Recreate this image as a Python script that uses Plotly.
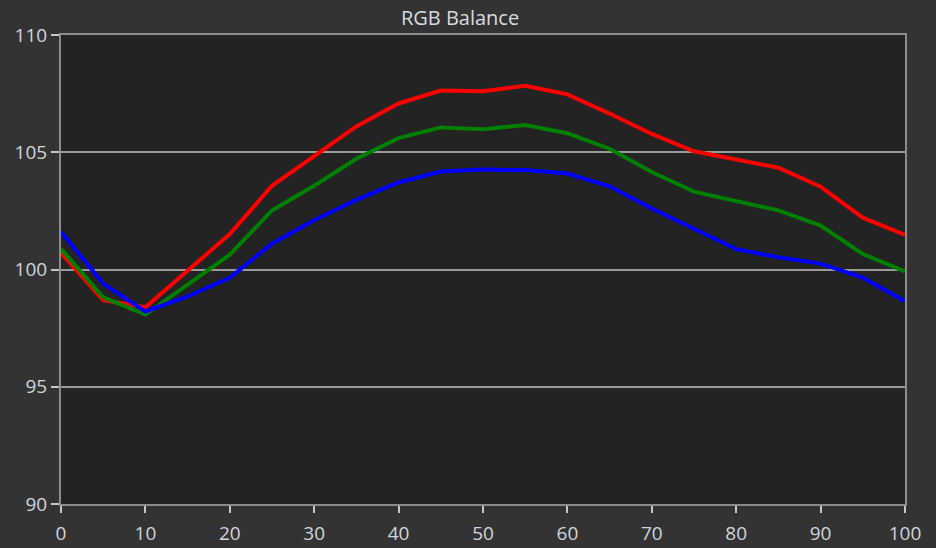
import plotly.graph_objects as go

x_vals = [0, 5, 10, 15, 20, 25, 30, 35, 40, 45, 50, 55, 60, 65, 70, 75, 80, 85, 90, 95, 100]
red_vals = [100.70, 98.69, 98.39, 99.95, 101.51, 103.57, 104.86, 106.10, 107.08, 107.63, 107.60, 107.83, 107.47,
            106.65, 105.78, 105.04, 104.69, 104.34, 103.53, 102.21, 101.48]
green_vals = [100.88, 98.81, 98.08, 99.37, 100.63, 102.52, 103.57, 104.72, 105.60, 106.06, 105.98, 106.16, 105.81,
              105.15, 104.16, 103.32, 102.90, 102.52, 101.87, 100.66, 99.92]
blue_vals = [101.61, 99.40, 98.21, 98.85, 99.65, 101.10, 102.10, 102.97, 103.71, 104.18, 104.26, 104.24, 104.09,
             103.55, 102.60, 101.75, 100.87, 100.52, 100.25, 99.65, 98.65]
y_ticks = [90, 95, 100, 105, 110]
x_ticks = [0, 10, 20, 30, 40, 50, 60, 70, 80, 90, 100]

fig = go.Figure()
fig.add_trace(go.Scatter(x=x_vals, y=red_vals, mode="lines", line=dict(color="#ff0000", width=4), showlegend=False))
fig.add_trace(go.Scatter(x=x_vals, y=green_vals, mode="lines", line=dict(color="#008000", width=4), showlegend=False))
fig.add_trace(go.Scatter(x=x_vals, y=blue_vals, mode="lines", line=dict(color="#0000ff", width=4), showlegend=False))

tick_font = dict(family="Open Sans, Noto Sans, sans-serif", size=19, color="#cfd6de")
fig.update_layout(
    width=936, height=548,
    margin=dict(l=61, r=31, t=35, b=44),
    paper_bgcolor="#333333",
    plot_bgcolor="#232323",
    title=dict(text="RGB Balance", x=0.4915, xanchor="center", y=1 - 18 / 548, yanchor="middle",
               font=dict(family="Open Sans, Noto Sans, sans-serif", size=20, color="#d6dbe0")),
    xaxis=dict(range=[0, 100], tickvals=x_ticks, showgrid=False, zeroline=False, automargin=False,
               showline=True, linecolor="#8c8c8c", linewidth=2, mirror=True,
               ticks="outside", ticklen=7, tickwidth=2, tickcolor="#c8c8c8",
               tickfont=tick_font, ticklabelstandoff=4),
    yaxis=dict(range=[90, 110], tickvals=y_ticks, showgrid=True, gridcolor="#9a9a9a", gridwidth=2,
               zeroline=False, automargin=False, showline=True, linecolor="#8c8c8c", linewidth=2, mirror=True,
               ticks="outside", ticklen=8, tickwidth=2, tickcolor="#c8c8c8",
               tickfont=tick_font, ticklabelstandoff=0),
)
fig.write_html(
    "out.html",
    config={"displayModeBar": False},
    post_script="document.body.style.margin='0';document.body.style.background='#333333';document.documentElement.style.background='#333333';",
)
